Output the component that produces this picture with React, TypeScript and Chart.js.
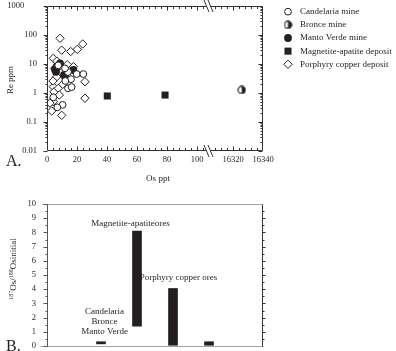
import React, { useEffect, useRef } from 'react';
import { Chart, registerables } from 'chart.js';
import { drawPoint } from 'chart.js/helpers';

Chart.register(...registerables);

const SERIF = "'Liberation Serif', 'Times New Roman', Times, serif";
const INK = '#231f20';

// ---- Panel A: Re (ppm) against Os (ppt) ----
const candelariaOs = [19.8, 24.2, 16.0, 14.0, 10.4, 6.9, 4.2, 12.2, 14.0, 12.0, 16.4, 7.5];
const candelariaRe = [4.5, 4.5, 3.0, 1.45, 0.39, 0.32, 0.71, 2.6, 5.3, 7.1, 1.6, 9.0];
const bronceOs = [16325.8];
const bronceRe = [1.27];
const mantoVerdeOs = [17.6, 12.2, 6.4, 6.0, 8.7, 11.3, 5.3];
const mantoVerdeRe = [6.2, 3.5, 8.1, 5.4, 10.5, 4.2, 6.5];
const magnetiteOs = [40.2, 78.7];
const magnetiteRe = [0.79, 0.85];
const porphyryOs = [8.7, 9.8, 15.8, 20.2, 23.8, 4.2, 8.2, 17.6, 25.3, 25.3, 4.2, 4.7, 7.5, 8.2, 4.2, 2.0, 3.1, 9.8, 6.4, 5.0, 6.5, 10.5, 13.5, 4.0, 9.5];
const porphyryRe = [77, 30, 27, 32, 49, 15.7, 10.5, 8.1, 2.45, 0.66, 1.65, 1.1, 1.45, 0.85, 0.5, 0.45, 0.24, 0.17, 3.6, 7.0, 12.5, 2.0, 9.5, 2.6, 5.0];

const seriesNames = [
  'Candelaria mine',
  'Bronce mine',
  'Manto Verde mine',
  'Magnetite-apatite deposit',
  'Porphyry copper deposit',
];

const osTicks = [0, 20, 40, 60, 80, 100, 16320, 16340];
const reTicks = [0.01, 0.1, 1, 10, 100, 1000];

// The Os axis is broken between these two values
const BREAK_FROM = 108;
const BREAK_TO = 16304;
const OS_MAX = 16340;
const osToAxis = (os: number) => (os <= BREAK_FROM ? os : os - BREAK_TO + BREAK_FROM);

// ---- Panel B: ranges of initial 187Os/188Os ----
const groupSlots = [1, 2, 3, 4];
const ratioLow = [0.15, 1.4, 0.05, 0.05];
const ratioHigh = [0.3, 8.1, 4.05, 0.3];
const ratioTicks = [0, 1, 2, 3, 4, 5, 6, 7, 8, 9, 10];

const font = (size: number) => `${size}px ${SERIF}`;

// keeps the plot area exactly where the layout padding puts it
const noLabelOverhang = (s: any) => {
  s.paddingTop = 0;
  s.paddingBottom = 0;
  s.paddingLeft = 0;
  s.paddingRight = 0;
};

function halfDisc(): HTMLCanvasElement {
  const c = document.createElement('canvas');
  c.width = 9;
  c.height = 9;
  const g = c.getContext('2d')!;
  g.fillStyle = '#fff';
  g.beginPath();
  g.arc(4.5, 4.5, 3.6, 0, Math.PI * 2);
  g.fill();
  g.fillStyle = INK;
  g.beginPath();
  g.arc(4.5, 4.5, 3.6, -Math.PI / 2, Math.PI / 2);
  g.closePath();
  g.fill();
  g.strokeStyle = INK;
  g.lineWidth = 1.1;
  g.beginPath();
  g.arc(4.5, 4.5, 3.6, 0, Math.PI * 2);
  g.stroke();
  return c;
}

const panelAFrame = {
  id: 'panelAFrame',
  afterDraw(chart: any) {
    const { ctx, chartArea: a, scales } = chart;
    const xs = scales.x;
    const ys = scales.y;
    const L = a.left + 0.5;
    const R = a.right - 0.5;
    const T = a.top + 0.5;
    const B = a.bottom - 0.5;
    const gx = xs.getPixelForValue(BREAK_FROM);

    ctx.save();
    ctx.strokeStyle = '#333';
    ctx.lineWidth = 1;
    ctx.beginPath();
    ctx.moveTo(L, T);
    ctx.lineTo(L, B);
    ctx.moveTo(R, T);
    ctx.lineTo(R, B);
    for (const y of [T, B]) {
      ctx.moveTo(L, y);
      ctx.lineTo(gx - 2.5, y);
      ctx.moveTo(gx + 1.5, y);
      ctx.lineTo(R, y);
    }
    const xTick = (v: number, len: number) => {
      const px = Math.round(xs.getPixelForValue(v)) + 0.5;
      ctx.moveTo(px, B);
      ctx.lineTo(px, B - len);
      ctx.moveTo(px, T);
      ctx.lineTo(px, T + len);
    };
    for (let v = 4; v < BREAK_FROM - 3; v += 4) xTick(v, v % 20 === 0 ? 4 : 2.5);
    for (let v = BREAK_TO + 4; v < OS_MAX; v += 4) xTick(osToAxis(v), osTicks.includes(v) ? 4 : 2.5);
    for (let e = -2; e <= 3; e++) {
      for (let m = 1; m <= 9; m++) {
        if (e === 3 && m > 1) break;
        const py = Math.round(ys.getPixelForValue(m * Math.pow(10, e))) + 0.5;
        const len = m === 1 ? 4 : 2;
        ctx.moveTo(L, py);
        ctx.lineTo(L - len, py);
        ctx.moveTo(R, py);
        ctx.lineTo(R - len, py);
      }
    }
    ctx.stroke();

    // break marks on the Os axis
    ctx.beginPath();
    for (const y of [a.top, a.bottom]) {
      for (const dx of [-5, -1]) {
        ctx.moveTo(gx + dx, y - 6);
        ctx.lineTo(gx + dx + 5, y + 6);
      }
    }
    ctx.stroke();

    // legend
    ctx.font = font(9);
    ctx.textAlign = 'left';
    ctx.textBaseline = 'middle';
    chart.data.datasets.forEach((ds: any, i: number) => {
      const y = 11.7 + i * 13.15;
      ctx.fillStyle = ds.pointBackgroundColor;
      ctx.strokeStyle = ds.pointBorderColor;
      ctx.lineWidth = ds.pointBorderWidth;
      drawPoint(ctx, { pointStyle: ds.pointStyle, radius: ds.pointRadius, rotation: 0, borderWidth: ds.pointBorderWidth } as any, 288, y);
      ctx.fillStyle = INK;
      ctx.fillText(ds.label, 300, y);
    });

    // axis titles and panel letter
    ctx.fillStyle = INK;
    ctx.font = font(9);
    ctx.textAlign = 'center';
    ctx.textBaseline = 'alphabetic';
    ctx.fillText('Os ppt', 158, 181);
    ctx.save();
    ctx.translate(13, 80);
    ctx.rotate(-Math.PI / 2);
    ctx.fillText('Re ppm', 0, 0);
    ctx.restore();
    ctx.font = font(16);
    ctx.textAlign = 'left';
    ctx.fillText('A.', 6, 166);
    ctx.restore();
  },
};

const panelBFrame = {
  id: 'panelBFrame',
  afterDraw(chart: any) {
    const { ctx, chartArea: a, scales } = chart;
    const xs = scales.x;
    const ys = scales.y;
    const L = a.left + 0.5;
    const R = a.right - 0.5;
    const T = a.top + 0.5;
    const B = a.bottom + 0.5;

    ctx.save();
    ctx.lineWidth = 1;
    ctx.strokeStyle = '#a3a3a3';
    ctx.beginPath();
    ctx.moveTo(L - 5, T);
    ctx.lineTo(R, T);
    ctx.moveTo(L - 7, B);
    ctx.lineTo(R + 1, B);
    ctx.stroke();

    ctx.strokeStyle = '#555';
    ctx.beginPath();
    ctx.moveTo(L, T);
    ctx.lineTo(L, B);
    for (let v = 0; v <= 10; v += 0.5) {
      const py = Math.round(ys.getPixelForValue(v)) + 0.5;
      const len = v % 1 === 0 ? 4 : 2;
      ctx.moveTo(L, py);
      ctx.lineTo(L - len, py);
    }
    ctx.stroke();

    ctx.strokeStyle = '#333';
    ctx.beginPath();
    ctx.moveTo(R, T);
    ctx.lineTo(R, B);
    for (let v = 0.5; v < 10; v += 0.5) {
      const py = Math.round(ys.getPixelForValue(v)) + 0.5;
      ctx.moveTo(R, py);
      ctx.lineTo(R + (v % 1 === 0 ? 3 : 2), py);
    }
    ctx.stroke();

    // group annotations
    ctx.fillStyle = INK;
    ctx.font = font(9);
    ctx.textAlign = 'center';
    ctx.textBaseline = 'middle';
    ctx.fillText('Magnetite-apatiteores', xs.getPixelForValue(1.82), ys.getPixelForValue(8.65));
    ctx.fillText('Porphyry copper ores', xs.getPixelForValue(3.15), ys.getPixelForValue(4.78));
    const cx = xs.getPixelForValue(1.1);
    ctx.fillText('Candelaria', cx, ys.getPixelForValue(2.4));
    ctx.fillText('Bronce', cx, ys.getPixelForValue(1.7));
    ctx.fillText('Manto Verde', cx, ys.getPixelForValue(0.99));

    // y title with superscript mass numbers
    ctx.save();
    ctx.translate(16, 79);
    ctx.rotate(-Math.PI / 2);
    ctx.textAlign = 'left';
    ctx.textBaseline = 'alphabetic';
    const parts: [string, boolean][] = [
      ['187', true],
      ['Os/', false],
      ['188', true],
      ['Osinitial', false],
    ];
    let total = 0;
    for (const [t, sup] of parts) {
      ctx.font = font(sup ? 6 : 9);
      total += ctx.measureText(t).width;
    }
    let x = -total / 2;
    for (const [t, sup] of parts) {
      ctx.font = font(sup ? 6 : 9);
      ctx.fillText(t, x, sup ? -3.5 : 0);
      x += ctx.measureText(t).width;
    }
    ctx.restore();

    ctx.font = font(16);
    ctx.textAlign = 'left';
    ctx.textBaseline = 'alphabetic';
    ctx.fillText('B.', 6, 161);
    ctx.restore();
  },
};

function buildPanelA(canvas: HTMLCanvasElement) {
  const series = (os: number[], re: number[]) => os.map((v, i) => ({ x: osToAxis(v), y: re[i] }));
  const open = { pointBackgroundColor: '#ffffff', pointBorderColor: INK, pointBorderWidth: 1 };
  const solid = { pointBackgroundColor: INK, pointBorderColor: INK, pointBorderWidth: 0 };
  const tickLabel = new Map(osTicks.map((v) => [osToAxis(v), String(v)]));

  return new Chart(canvas, {
    type: 'scatter',
    data: {
      datasets: [
        { label: seriesNames[0], data: series(candelariaOs, candelariaRe), pointStyle: 'circle', pointRadius: 3.4, ...open },
        { label: seriesNames[1], data: series(bronceOs, bronceRe), pointStyle: halfDisc() as any, pointRadius: 4, ...solid },
        { label: seriesNames[2], data: series(mantoVerdeOs, mantoVerdeRe), pointStyle: 'circle', pointRadius: 3.9, ...solid },
        { label: seriesNames[3], data: series(magnetiteOs, magnetiteRe), pointStyle: 'rect', pointRadius: 5, ...solid },
        { label: seriesNames[4], data: series(porphyryOs, porphyryRe), pointStyle: 'rectRot', pointRadius: 4.2, ...open },
      ] as any,
    },
    options: {
      animation: false,
      responsive: false,
      events: [],
      layout: { padding: { left: 0, top: 6, right: 133, bottom: 0 } },
      plugins: { legend: { display: false }, tooltip: { enabled: false } },
      scales: {
        x: {
          type: 'linear',
          min: 0,
          max: osToAxis(OS_MAX),
          grid: { display: false, drawTicks: false },
          border: { display: false },
          afterBuildTicks: (s: any) => {
            s.ticks = osTicks.map((v) => ({ value: osToAxis(v) }));
          },
          afterFit: (s: any) => {
            s.height = 39;
            noLabelOverhang(s);
          },
          ticks: {
            autoSkip: false,
            maxRotation: 0,
            padding: 4,
            color: INK,
            font: { family: SERIF, size: 8.5 },
            callback: (v: any) => tickLabel.get(Number(v)) ?? '',
          },
        },
        y: {
          type: 'logarithmic',
          min: 0.01,
          max: 1000,
          grid: { display: false, drawTicks: false },
          border: { display: false },
          afterBuildTicks: (s: any) => {
            s.ticks = reTicks.map((v) => ({ value: v }));
          },
          afterFit: (s: any) => {
            s.width = 47;
            noLabelOverhang(s);
          },
          ticks: {
            padding: 10,
            color: INK,
            font: { family: SERIF, size: 8.5 },
            callback: (v: any) => {
              const n = Number(v);
              const s = n < 1 ? n.toFixed(Math.round(-Math.log10(n))) : String(Math.round(n));
              return n >= 1000 ? s + '\u2003\u2002' : s;
            },
          },
        },
      },
    } as any,
    plugins: [panelAFrame],
  });
}

function buildPanelB(canvas: HTMLCanvasElement) {
  return new Chart(canvas, {
    type: 'bar',
    data: {
      datasets: [
        {
          data: groupSlots.map((x, i) => ({ x, y: [ratioLow[i], ratioHigh[i]] })),
          backgroundColor: INK,
          borderWidth: 0,
          barThickness: 9,
        },
      ] as any,
    },
    options: {
      animation: false,
      responsive: false,
      events: [],
      layout: { padding: { left: 0, top: 14, right: 133, bottom: 5 } },
      plugins: { legend: { display: false }, tooltip: { enabled: false } },
      scales: {
        x: { type: 'linear', min: 0, max: 5, display: false },
        y: {
          min: 0,
          max: 10,
          grid: { display: false, drawTicks: false },
          border: { display: false },
          afterBuildTicks: (s: any) => {
            s.ticks = ratioTicks.map((v) => ({ value: v }));
          },
          afterFit: (s: any) => {
            s.width = 47;
            noLabelOverhang(s);
          },
          ticks: {
            padding: 11,
            color: INK,
            font: { family: SERIF, size: 8.5 },
          },
        },
      },
    } as any,
    plugins: [panelBFrame],
  });
}

export default function App() {
  const topRef = useRef<HTMLCanvasElement>(null);
  const bottomRef = useRef<HTMLCanvasElement>(null);

  useEffect(() => {
    const a = buildPanelA(topRef.current!);
    const b = buildPanelB(bottomRef.current!);
    return () => {
      a.destroy();
      b.destroy();
    };
  }, []);

  return (
    <div style={{ position: 'absolute', left: 0, top: 0, width: 396, height: 351, background: '#fff', overflow: 'hidden' }}>
      <canvas ref={topRef} width={396} height={190} style={{ position: 'absolute', left: 0, top: 0, width: 396, height: 190 }} />
      <canvas ref={bottomRef} width={396} height={161} style={{ position: 'absolute', left: 0, top: 190, width: 396, height: 161 }} />
    </div>
  );
}
